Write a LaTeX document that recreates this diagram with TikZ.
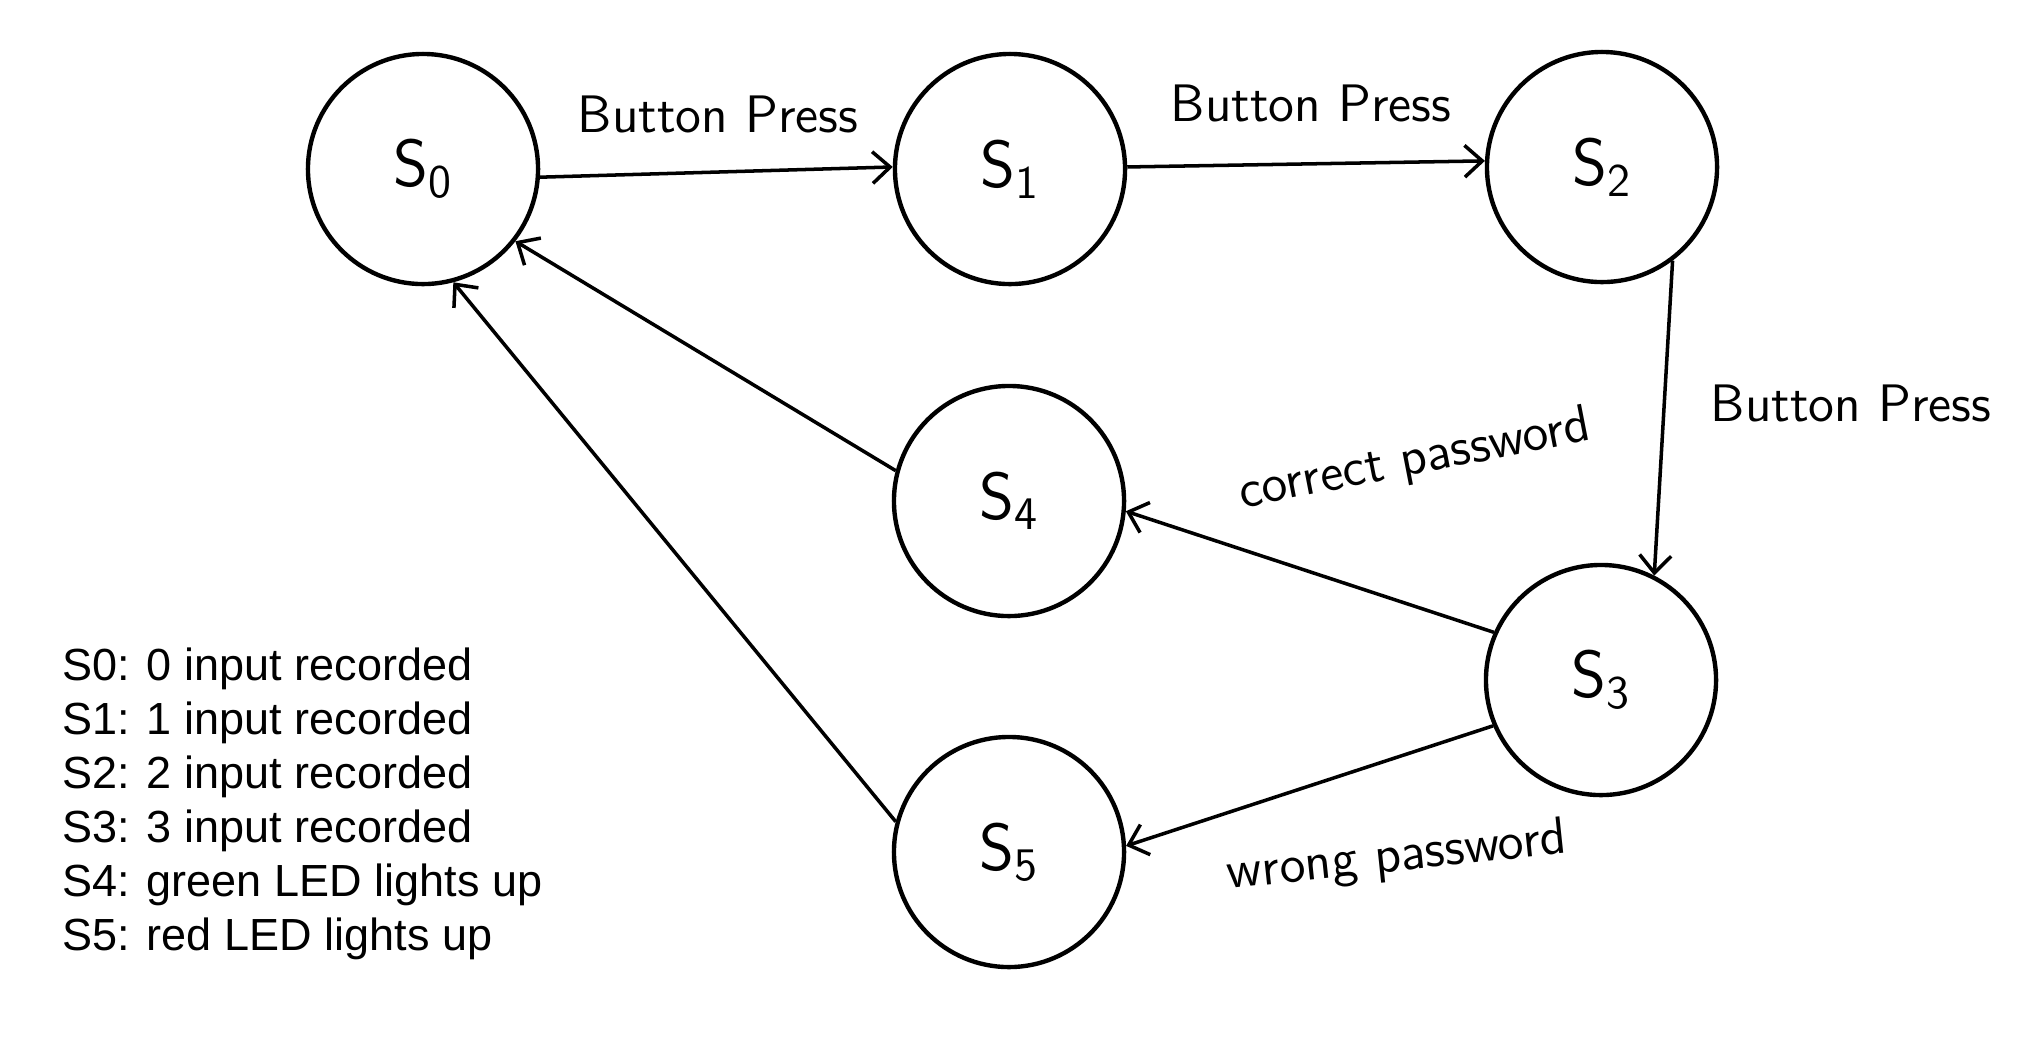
\documentclass[tikz,border=0pt]{standalone}
\usepackage{fontspec}
\setmainfont{Liberation Sans}
\usetikzlibrary{arrows.meta, positioning}

\begin{document}
\begin{tikzpicture}[x=0.01cm, y=-0.01cm,
  state/.style={draw, circle, line width=1.25pt, minimum size=2.3cm, inner sep=0pt, font=\sffamily\fontsize{19}{22}\selectfont},
  trans/.style={line width=1pt, -{Straight Barb[length=5pt, width=9pt]}},
  hand/.style={font=\sffamily\fontsize{15}{18}\selectfont},
  legend/.style={anchor=base west, inner sep=0pt, font=\fontsize{12.8}{15.5}\selectfont}]
  \useasboundingbox (0,0) rectangle (2024,1038);

  % States
  \node[state] (s0) at (423,169) {S\textsubscript{0}};
  \node[state] (s1) at (1010,169) {S\textsubscript{1}};
  \node[state] (s2) at (1602,167) {S\textsubscript{2}};
  \node[state] (s4) at (1009,501) {S\textsubscript{4}};
  \node[state] (s3) at (1601,680) {S\textsubscript{3}};
  \node[state] (s5) at (1009,852) {S\textsubscript{5}};

  % Transitions
  \draw[trans] (s0.-4) -- (s1.179);
  \draw[trans] (s1.1) -- (s2.177);
  \draw[trans] (s2.-53) -- (s3.63);
  \draw[trans] (s3.156) -- (s4.-5);
  \draw[trans] (s3.203) -- (s5.3);
  \draw[trans] (s4.165) -- (s0.-38);
  \draw[trans] (s5.165) -- (s0.-75);

  % Transition labels
  \node[hand] (press01) at (718,114) {Button Press};
  \node[hand] (press12) at (1311,103) {Button Press};
  \node[hand] (press23) at (1851,403) {Button Press};
  \node[hand, rotate=11] (correct) at (1415,461) {correct password};
  \node[hand, rotate=6] (wrong) at (1397,858) {wrong password};

  % Legend
  \foreach \txt [count=\i] in {S0: 0 input recorded, S1: 1 input recorded, S2: 2 input recorded,
      S3: 3 input recorded, S4: green LED lights up, S5: red LED lights up}
    \node[legend] (leg\i) at (62,{626+54*\i}) {\txt};
\end{tikzpicture}
\end{document}
